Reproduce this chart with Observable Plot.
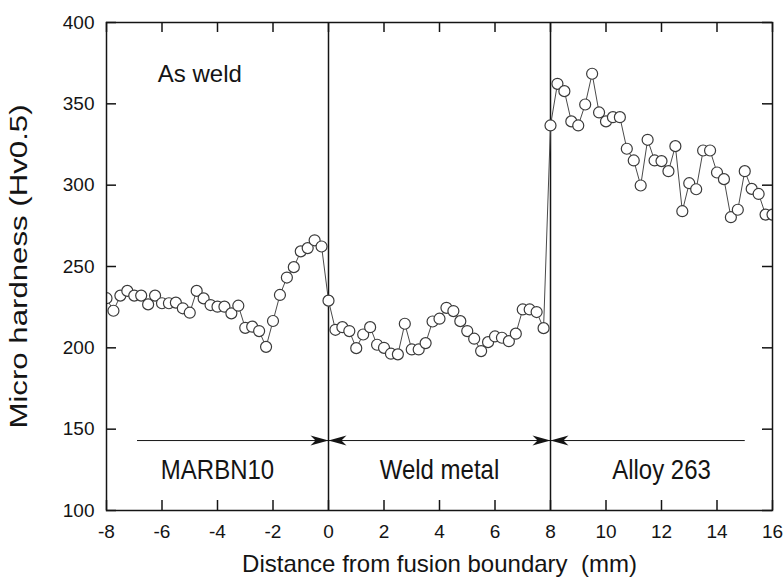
<!DOCTYPE html>
<html>
<head>
<meta charset="utf-8">
<script src="https://cdn.jsdelivr.net/npm/d3@7"></script>
<script src="https://cdn.jsdelivr.net/npm/@observablehq/plot@0.6"></script>
<style>
  html, body { margin: 0; padding: 0; background: #fff; }
  #chart { width: 784px; height: 583px; }
</style>
</head>
<body>
<div id="chart"></div>
<script>
// ---- data ----
const marbnX = [-8, -7.75, -7.5, -7.25, -7, -6.75, -6.5, -6.25, -6, -5.75, -5.5, -5.25, -5, -4.75, -4.5, -4.25, -4, -3.75, -3.5, -3.25, -3, -2.75, -2.5, -2.25, -2, -1.75, -1.5, -1.25, -1, -0.75, -0.5, -0.25, 0];
const marbnHv = [230.5, 222.8, 232.1, 235.0, 232.1, 232.1, 226.7, 232.1, 227.4, 227.4, 227.8, 224.3, 221.6, 235.0, 230.4, 226.3, 225.3, 225.3, 221.2, 225.9, 212.3, 213.0, 210.3, 200.6, 216.5, 232.5, 243.2, 249.6, 259.3, 261.3, 266.1, 262.3, 229.0];

const weldX = [0.25, 0.5, 0.75, 1, 1.25, 1.5, 1.75, 2, 2.25, 2.5, 2.75, 3, 3.25, 3.5, 3.75, 4, 4.25, 4.5, 4.75, 5, 5.25, 5.5, 5.75, 6, 6.25, 6.5, 6.75, 7, 7.25, 7.5, 7.75];
const weldHv = [211.1, 212.7, 210.3, 199.8, 208.2, 212.7, 201.9, 200.0, 196.4, 196.0, 214.8, 199.0, 199.0, 202.9, 216.2, 217.9, 224.6, 222.6, 216.4, 210.3, 205.6, 198.0, 203.5, 207.0, 206.2, 204.1, 208.7, 223.6, 223.6, 222.0, 212.1];

const alloyX = [8, 8.25, 8.5, 8.75, 9, 9.25, 9.5, 9.75, 10, 10.25, 10.5, 10.75, 11, 11.25, 11.5, 11.75, 12, 12.25, 12.5, 12.75, 13, 13.25, 13.5, 13.75, 14, 14.25, 14.5, 14.75, 15, 15.25, 15.5, 15.75, 16];
const alloyHv = [336.7, 362.3, 357.8, 339.2, 336.7, 349.6, 368.5, 344.7, 339.2, 341.8, 341.8, 322.4, 315.2, 299.8, 327.9, 315.2, 314.8, 308.6, 324.0, 284.0, 301.2, 297.5, 321.3, 321.3, 307.8, 303.7, 280.3, 284.9, 308.6, 297.7, 294.6, 281.9, 281.9];

const xTicks = [-8, -6, -4, -2, 0, 2, 4, 6, 8, 10, 12, 14, 16];
const yTicks = [100, 150, 200, 250, 300, 350, 400];
const boundaries = [0, 8];

const regionNames = ["MARBN10", "Weld metal", "Alloy 263"];
const regionCenters = [-4, 4, 12];
const regionLabelHv = 125;

const arrowFrom = [-6.9, 0, 8];
const arrowTo = [0, 8, 15];
const arrowHv = 143;
const rightHeadX = [0, 8];
const leftHeadX = [0, 8];

const conditionLabel = "As weld";
const conditionX = -6.15;
const conditionHv = 368;

const xLabel = "Distance from fusion boundary  (mm)";
const yLabel = "Micro hardness (Hv0.5)";

// ---- build table ----
const points = [
  ...marbnX.map((x, i) => ({x, hv: marbnHv[i]})),
  ...weldX.map((x, i) => ({x, hv: weldHv[i]})),
  ...alloyX.map((x, i) => ({x, hv: alloyHv[i]}))
];
const arrows = arrowFrom.map((x1, i) => ({x1, x2: arrowTo[i], y: arrowHv}));

// arrowhead symbols (tip at the anchor point)
const headRight = {draw(ctx) { const L = 18, H = 5; ctx.moveTo(0, 0); ctx.lineTo(-L, -H); ctx.lineTo(-0.72 * L, 0); ctx.lineTo(-L, H); ctx.closePath(); }};
const headLeft = {draw(ctx) { const L = 18, H = 5; ctx.moveTo(0, 0); ctx.lineTo(L, -H); ctx.lineTo(0.72 * L, 0); ctx.lineTo(L, H); ctx.closePath(); }};

const W = 784, H = 583, mL = 106, mR = 12, mT = 22, mB = 73;
const innerW = W - mL - mR, innerH = H - mT - mB, tickLen = 10;
const ink = "#141414";

const chart = Plot.plot({
  width: W, height: H,
  marginLeft: mL, marginRight: mR, marginTop: mT, marginBottom: mB,
  style: {fontFamily: "'Liberation Sans', Arial, sans-serif", background: "#fff", color: ink},
  x: {domain: [-8, 16]},
  y: {domain: [100, 400]},
  marks: [
    Plot.axisX({ticks: xTicks, tickSize: 0, tickPadding: 14, fontSize: 19, tickFormat: d => String(d), label: null}),
    Plot.axisY({ticks: yTicks, tickSize: 0, tickPadding: 12, fontSize: 19, tickFormat: d => String(d), label: null}),
    Plot.tickX(xTicks, {x: d => d, insetTop: innerH - tickLen, stroke: ink, strokeWidth: 1.5}),
    Plot.tickX(xTicks, {x: d => d, insetBottom: innerH - tickLen, stroke: ink, strokeWidth: 1.5}),
    Plot.tickY(yTicks, {y: d => d, insetRight: innerW - tickLen, stroke: ink, strokeWidth: 1.5}),
    Plot.tickY(yTicks, {y: d => d, insetLeft: innerW - tickLen, stroke: ink, strokeWidth: 1.5}),
    Plot.ruleX(boundaries, {x: d => d, stroke: ink, strokeWidth: 1.5}),
    Plot.link(arrows, {x1: "x1", x2: "x2", y1: "y", y2: "y", stroke: ink, strokeWidth: 1}),
    Plot.dot(rightHeadX, {x: d => d, y: () => arrowHv, symbol: headRight, fill: ink, stroke: "none", r: 5}),
    Plot.dot(leftHeadX, {x: d => d, y: () => arrowHv, symbol: headLeft, fill: ink, stroke: "none", r: 5}),
    Plot.text(regionNames, {x: (d, i) => regionCenters[i], y: () => regionLabelHv, text: d => d, fontSize: 24, fill: ink, className: "region-lab"}),
    Plot.text([conditionLabel], {x: () => conditionX, y: () => conditionHv, text: d => d, fontSize: 24, textAnchor: "start", fill: ink}),
    Plot.line(points, {x: "x", y: "hv", stroke: "#4a4a4a", strokeWidth: 1, clip: true}),
    Plot.dot(points, {x: "x", y: "hv", r: 5.5, fill: "#fff", stroke: "#3a3a3a", strokeWidth: 1.2, clip: true}),
    Plot.frame({stroke: ink, strokeWidth: 1.5}),
    Plot.text([xLabel], {frameAnchor: "bottom", dy: 61, text: d => d, fontSize: 24, fill: ink}),
    Plot.text([yLabel], {frameAnchor: "left", dx: -87, rotate: -90, textAnchor: "middle", text: d => d, fontSize: 24, fill: ink, className: "y-lab"})
  ]
});

// stretch some labels to match the reference's proportions (scale about each text's anchor)
function stretch(sel, sx, sy) {
  d3.select(chart).selectAll(sel).each(function() {
    const t = this.getAttribute("transform") || "";
    this.setAttribute("transform", `${t} scale(${sx},${sy})`);
  });
}
stretch(".y-lab text", 1.3, 1);
stretch(".region-lab text", 1, 1.15);

document.getElementById("chart").appendChild(chart);
</script>
</body>
</html>
